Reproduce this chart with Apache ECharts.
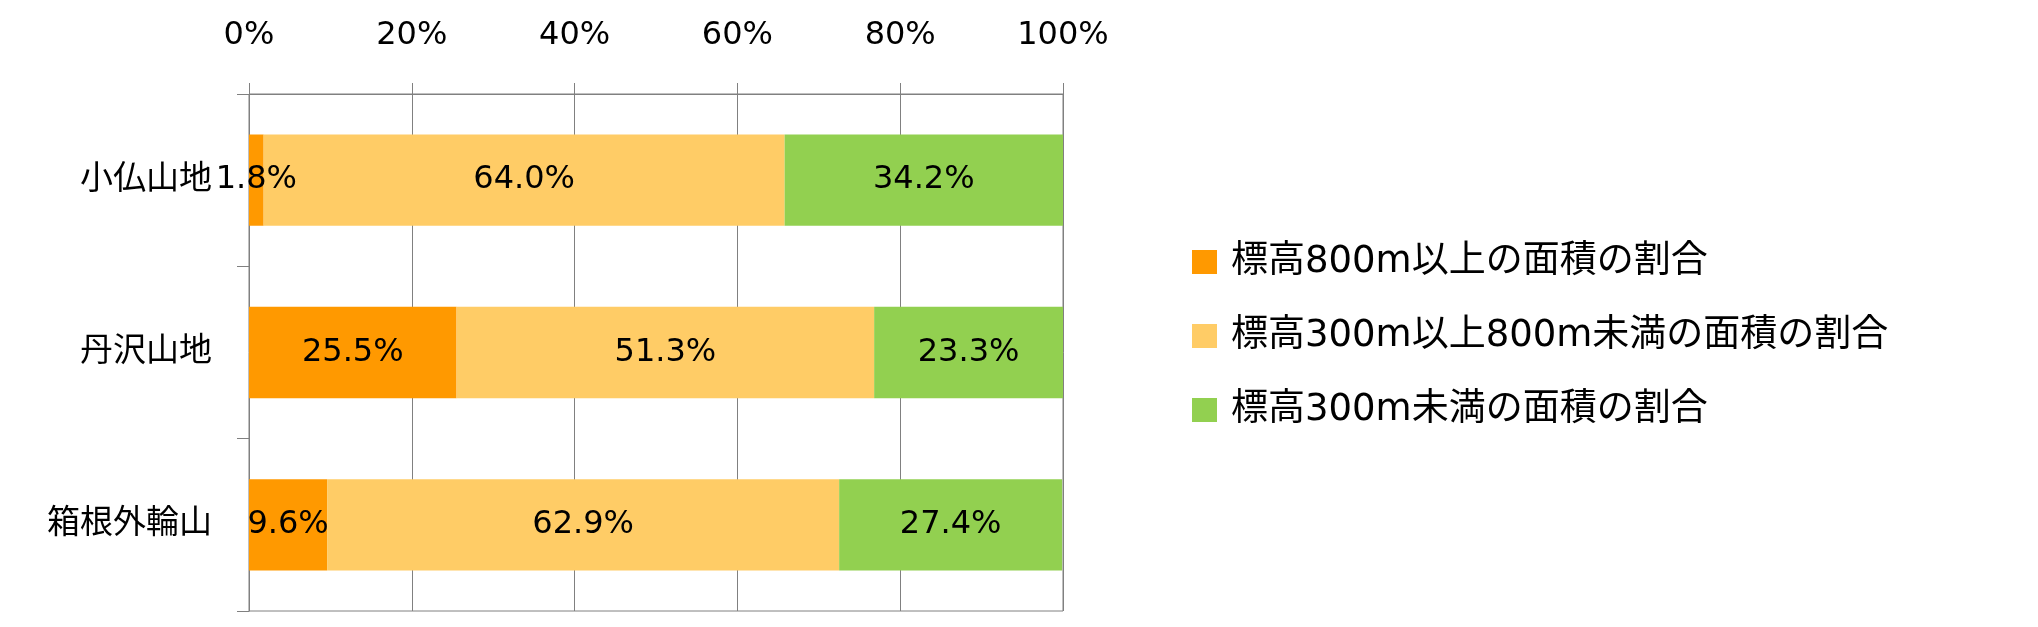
<!DOCTYPE html>
<html>
<head>
<meta charset="utf-8">
<script src="https://cdn.jsdelivr.net/npm/echarts@6/dist/echarts.min.js"></script>
<style>
  html, body { margin: 0; padding: 0; background: #fff; }
  #chart { width: 2038px; height: 627px; }
</style>
</head>
<body>
<div id="chart"></div>
<script>
// 山地ごとの標高別面積割合（%）
const categories = ["小仏山地", "丹沢山地", "箱根外輪山"];
const seriesNames = [
  "標高800m以上の面積の割合",
  "標高300m以上800m未満の面積の割合",
  "標高300m未満の面積の割合",
];
const over800 = [1.8, 25.5, 9.6];
const from300to800 = [64.0, 51.3, 62.9];
const under300 = [34.2, 23.3, 27.4];
const xTicks = [0, 20, 40, 60, 80, 100];

const colors = ["#FF9900", "#FFCC66", "#92D050"];
const font = "'DejaVu Sans', 'Noto Sans CJK JP', sans-serif";
const lineColor = "#808080";

const chart = echarts.init(document.getElementById("chart"));

function makeSeries(name, data, color) {
  return {
    name: name,
    type: "bar",
    stack: "total",
    barWidth: "53%",
    itemStyle: { color: color },
    label: {
      show: true,
      position: "inside",
      color: "#000",
      fontSize: 32,
      fontFamily: font,
      formatter: (p) => p.value.toFixed(1) + "%",
    },
    data: data,
  };
}

chart.setOption({
  animation: false,
  textStyle: { fontFamily: font },
  grid: {
    left: 249,
    right: 975,
    top: 94,
    bottom: 16,
    show: true,
    borderColor: lineColor,
    borderWidth: 1,
  },
  legend: {
    orient: "vertical",
    left: 1187,
    top: 237,
    icon: "rect",
    itemWidth: 25,
    itemHeight: 24,
    itemGap: 34,
    textStyle: {
      fontSize: 37,
      lineHeight: 40,
      color: "#000",
      fontFamily: font,
      padding: [0, 0, 0, 9],
    },
    data: seriesNames,
  },
  xAxis: {
    type: "value",
    position: "top",
    min: xTicks[0],
    max: xTicks[xTicks.length - 1],
    interval: xTicks[1] - xTicks[0],
    axisLine: { show: true, lineStyle: { color: lineColor } },
    axisTick: { show: true, length: 11, lineStyle: { color: lineColor } },
    splitLine: { show: true, lineStyle: { color: lineColor } },
    axisLabel: {
      margin: 42,
      fontSize: 32,
      color: "#000",
      formatter: "{value}%",
    },
  },
  yAxis: {
    type: "category",
    inverse: true,
    data: categories,
    axisLine: { show: true, lineStyle: { color: lineColor } },
    axisTick: { show: true, length: 12, lineStyle: { color: lineColor } },
    axisLabel: { margin: 37, fontSize: 33, color: "#000" },
  },
  series: [
    makeSeries(seriesNames[0], over800, colors[0]),
    makeSeries(seriesNames[1], from300to800, colors[1]),
    makeSeries(seriesNames[2], under300, colors[2]),
  ],
});
</script>
</body>
</html>
